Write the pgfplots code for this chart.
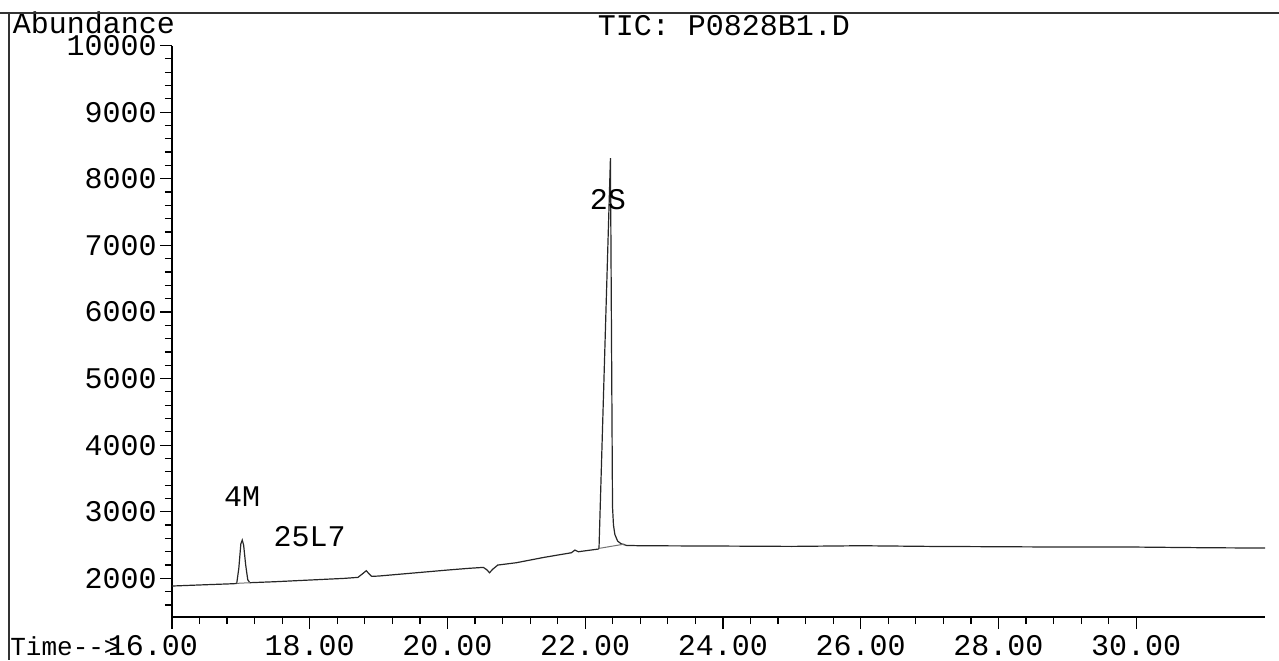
\documentclass[border=0pt]{standalone}
\usepackage{fontspec}
\setmainfont{Liberation Mono}
\setmonofont{Liberation Mono}
\usepackage{pgfplots}
\pgfplotsset{compat=1.18}

% total ion chromatogram, time (min) vs abundance
\pgfplotstableread{
t      a
16.00  1885
16.50  1905
16.90  1920
16.94  1925
16.97  2150
17.00  2520
17.02  2575
17.04  2500
17.07  2200
17.10  1980
17.13  1935
17.50  1950
18.00  1975
18.50  2000
18.70  2015
18.78  2080
18.82  2115
18.86  2070
18.90  2030
19.00  2035
19.50  2080
20.00  2125
20.30  2150
20.52  2165
20.57  2130
20.61  2085
20.66  2140
20.73  2200
21.00  2235
21.40  2315
21.80  2385
21.85  2425
21.90  2400
22.19  2440
22.20  2450
22.366 8310
22.396 3075
22.41  2800
22.43  2660
22.47  2560
22.52  2520
22.60  2495
22.80  2490
24.00  2485
25.00  2480
26.00  2490
27.00  2480
28.00  2475
29.00  2470
30.00  2470
31.00  2460
31.87  2455
}\tic

\begin{document}
\begin{tikzpicture}[font=\fontsize{15}{18}\selectfont]
\begin{axis}[
  at={(0,0)}, anchor=south west,
  scale only axis,
  width=546.5pt, height=285.75pt,
  xmin=16, xmax=31.87,
  ymin=1420, ymax=10000,
  scaled y ticks=false, scaled x ticks=false,
  axis x line*=bottom, axis y line*=left,
  axis line style={black, line width=0.7pt},
  tick align=outside,
  major tick length=6pt, minor tick length=3.5pt,
  every tick/.style={black, line width=0.6pt},
  xtick={16,18,...,30},
  xticklabels={\hspace*{-19pt}16.00,18.00,20.00,22.00,24.00,26.00,28.00,30.00},
  minor x tick num=4,
  ytick={2000,3000,...,10000},
  yticklabels={2000,3000,4000,5000,6000,7000,8000,9000,10000},
  minor ytick={1600,1800,2200,2400,2600,2800,3200,3400,3600,3800,4200,4400,4600,4800,5200,5400,5600,5800,6200,6400,6600,6800,7200,7400,7600,7800,8200,8400,8600,8800,9200,9400,9600,9800},
  /pgf/number format/assume math mode=true,
  xticklabel style={anchor=base, yshift=-13pt},
  yticklabel style={anchor=east, inner sep=0pt, xshift=-1.5pt},
  clip=false,
]
  \addplot[black!85, line width=0.6pt] table[x=t, y=a] {\tic};
  % integration baselines under the two main peaks
  \addplot[black!55, line width=0.5pt] coordinates {(16.94,1925) (17.13,1935)};
  \addplot[black!55, line width=0.5pt] coordinates {(22.20,2450) (22.57,2515)};
  % peak labels
  \node at (axis cs:17.02,3220) {4M};
  \node at (axis cs:18.00,2620) {25L7};
  \node at (axis cs:22.33,7680) {2S};
\end{axis}
% header texts and page frame
\node at (276pt,295.5pt) {TIC: P0828B1.D};
\node at (-39pt,297pt) {Abundance};
\node[anchor=base west, inner sep=0pt, font=\fontsize{13}{16}\selectfont] at (-81pt,-19pt) {Time-{}-{}>};
\draw[black!80, line width=0.6pt] (-86pt,302pt) -- (553.5pt,302pt);
\draw[black!80, line width=0.6pt] (-81.5pt,302pt) -- (-81.5pt,-21.5pt);
\pgfresetboundingbox
\path[use as bounding box] (-86pt,-21.5pt) rectangle (553.5pt,308.5pt);
\end{tikzpicture}
\end{document}
